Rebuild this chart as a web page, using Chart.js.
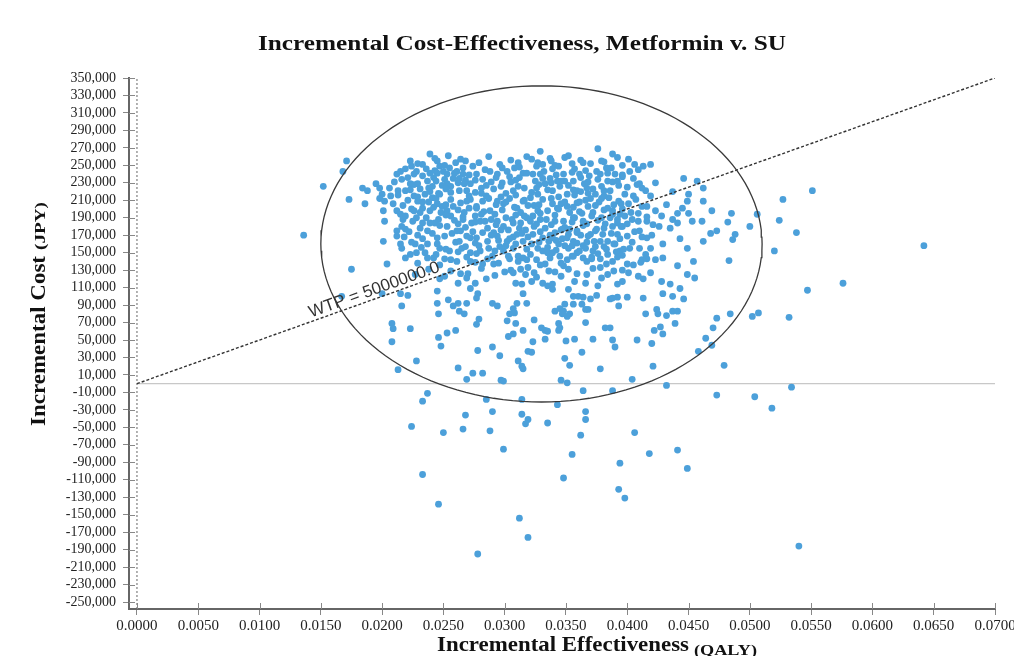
<!DOCTYPE html>
<html>
<head>
<meta charset="utf-8">
<script src="https://cdn.jsdelivr.net/npm/chart.js@4"></script>
<style>
  html, body { margin: 0; padding: 0; background: #fff; }
  canvas { display: block; }
</style>
</head>
<body>
<canvas id="iceChart" width="1014" height="656"></canvas>
<script>
// === Data ===
const chartTitle = 'Incremental Cost-Effectiveness, Metformin v. SU';
const xTickValues = [0, 0.005, 0.01, 0.015, 0.02, 0.025, 0.03, 0.035, 0.04, 0.045, 0.05, 0.055, 0.06, 0.065, 0.07];
const yTickValues = [350000, 330000, 310000, 290000, 270000, 250000, 230000, 210000, 190000, 170000, 150000,
  130000, 110000, 90000, 70000, 50000, 30000, 10000, -10000, -30000, -50000, -70000, -90000, -110000,
  -130000, -150000, -170000, -190000, -210000, -230000, -250000];
const wtpPerQaly = 5000000;
const wtpLabel = 'WTP = 5000000.0';
const ellipseCenter = [0.0330, 160000];
const ellipseRadius = [0.0180, 181000];

// simulated pairs [incremental QALY, incremental cost JPY]
const cloudPoints = [
  [0.0186,206000],[0.0184,224000],[0.0188,221000],[0.0195,229000],[0.0198,224000],[0.0200,217000],[0.0198,212000],
  [0.0202,209000],[0.0206,224000],[0.0213,221000],[0.0209,206000],[0.0212,198000],[0.0201,198000],[0.0215,194000],
  [0.0217,188000],[0.0202,186000],[0.0201,163000],[0.0212,175000],[0.0219,177000],[0.0212,169000],[0.0215,160000],
  [0.0216,155000],[0.0223,148000],[0.0219,144000],[0.0204,137000],[0.0212,240000],[0.0215,243000],[0.0223,255000],
  [0.0224,249000],[0.0228,243000],[0.0233,251000],[0.0239,263000],[0.0239,241000],[0.0245,241000],[0.0245,255000],
  [0.0247,249000],[0.0250,243000],[0.0253,240000],[0.0251,234000],[0.0254,261000],[0.0255,247000],[0.0260,253000],
  [0.0264,257000],[0.0258,235000],[0.0262,230000],[0.0253,229000],[0.0237,232000],[0.0229,229000],[0.0231,223000],
  [0.0223,229000],[0.0229,209000],[0.0235,217000],[0.0241,213000],[0.0233,201000],[0.0239,198000],[0.0245,206000],
  [0.0224,200000],[0.0228,190000],[0.0233,184000],[0.0239,184000],[0.0246,188000],[0.0253,198000],[0.0258,203000],
  [0.0264,207000],[0.0269,221000],[0.0272,229000],[0.0266,240000],[0.0274,249000],[0.0277,240000],[0.0282,234000],
  [0.0288,243000],[0.0294,240000],[0.0298,247000],[0.0302,243000],[0.0308,247000],[0.0311,253000],[0.0315,241000],
  [0.0272,211000],[0.0277,201000],[0.0282,209000],[0.0288,198000],[0.0294,209000],[0.0299,206000],[0.0304,212000],
  [0.0310,201000],[0.0315,209000],[0.0266,188000],[0.0273,184000],[0.0280,186000],[0.0286,178000],[0.0294,186000],
  [0.0299,180000],[0.0306,188000],[0.0313,184000],[0.0318,190000],[0.0253,180000],[0.0257,172000],[0.0264,175000],
  [0.0269,169000],[0.0277,167000],[0.0286,163000],[0.0294,169000],[0.0302,163000],[0.0310,171000],[0.0315,163000],
  [0.0237,175000],[0.0245,167000],[0.0227,160000],[0.0237,160000],[0.0247,155000],[0.0255,152000],[0.0242,144000],
  [0.0251,143000],[0.0265,155000],[0.0272,150000],[0.0280,152000],[0.0290,146000],[0.0299,152000],[0.0307,155000],
  [0.0261,140000],[0.0272,140000],[0.0282,137000],[0.0295,138000],[0.0304,143000],[0.0315,144000],
  [0.0329,266000],[0.0337,258000],[0.0352,261000],[0.0376,269000],[0.0388,263000],[0.0379,255000],[0.0364,253000],
  [0.0344,249000],[0.0401,257000],[0.0413,249000],[0.0419,251000],[0.0326,249000],[0.0331,251000],[0.0323,240000],
  [0.0329,240000],[0.0337,235000],[0.0348,240000],[0.0361,240000],[0.0375,243000],[0.0378,240000],[0.0390,240000],
  [0.0402,243000],[0.0384,232000],[0.0388,231000],[0.0396,237000],[0.0400,225000],[0.0410,229000],[0.0415,221000],
  [0.0419,215000],[0.0405,215000],[0.0446,235000],[0.0457,232000],[0.0462,224000],[0.0450,217000],[0.0449,209000],
  [0.0445,201000],[0.0441,195000],[0.0437,188000],[0.0441,184000],[0.0435,178000],[0.0450,195000],[0.0453,186000],
  [0.0462,209000],[0.0461,186000],[0.0469,198000],[0.0468,172000],[0.0473,175000],[0.0462,163000],[0.0428,192000],
  [0.0423,198000],[0.0416,203000],[0.0409,195000],[0.0416,186000],[0.0410,175000],[0.0416,167000],[0.0410,155000],
  [0.0419,155000],[0.0429,160000],[0.0443,166000],[0.0449,155000],[0.0429,144000],[0.0416,143000],[0.0441,135000],
  [0.0454,140000],[0.0384,201000],[0.0388,198000],[0.0394,194000],[0.0386,190000],[0.0392,188000],[0.0398,192000],
  [0.0379,190000],[0.0382,183000],[0.0388,180000],[0.0396,180000],[0.0400,183000],[0.0375,177000],[0.0367,183000],
  [0.0370,171000],[0.0378,163000],[0.0384,163000],[0.0392,171000],[0.0400,169000],[0.0402,155000],[0.0394,152000],
  [0.0384,148000],[0.0372,152000],[0.0364,158000],[0.0356,163000],[0.0352,171000],[0.0347,177000],[0.0353,177000],
  [0.0359,175000],[0.0341,186000],[0.0348,186000],[0.0356,190000],[0.0363,195000],[0.0368,203000],[0.0359,207000],
  [0.0351,203000],[0.0343,201000],[0.0335,198000],[0.0329,195000],[0.0323,192000],[0.0326,183000],[0.0333,178000],
  [0.0323,171000],[0.0331,167000],[0.0339,167000],[0.0344,160000],[0.0352,155000],[0.0327,155000],[0.0335,150000],
  [0.0345,146000],[0.0356,146000],[0.0364,144000],[0.0378,143000],[0.0388,140000],[0.0400,137000],[0.0333,137000],
  [0.0348,135000],[0.0359,221000],[0.0351,217000],[0.0345,226000],[0.0339,221000],[0.0333,229000],[0.0326,224000],
  [0.0367,224000],[0.0374,217000],[0.0370,212000],[0.0356,232000],[0.0343,232000],
  [0.0236,246000],[0.0242,236000],[0.0249,227000],[0.0256,219000],[0.0261,243000],[0.0268,233000],[0.0271,201000],
  [0.0276,192000],[0.0281,224000],[0.0285,215000],[0.0289,231000],[0.0292,194000],[0.0297,226000],[0.0301,218000],
  [0.0305,231000],[0.0309,193000],[0.0312,236000],[0.0316,224000],[0.0319,204000],[0.0321,213000],[0.0325,232000],
  [0.0328,205000],[0.0332,243000],[0.0334,188000],[0.0338,212000],[0.0341,173000],[0.0346,206000],[0.0349,232000],
  [0.0353,196000],[0.0356,222000],[0.0361,208000],[0.0364,186000],[0.0368,231000],[0.0372,196000],[0.0377,208000],
  [0.0381,221000],[0.0385,213000],[0.0389,205000],[0.0393,227000],[0.0396,200000],[0.0401,206000],[0.0404,188000],
  [0.0226,215000],[0.0231,196000],[0.0238,224000],[0.0244,212000],[0.0249,203000],[0.0256,192000],[0.0262,183000],
  [0.0267,196000],[0.0274,174000],[0.0279,158000],[0.0284,186000],[0.0291,173000],[0.0296,157000],[0.0303,176000],
  [0.0307,168000],[0.0311,146000],[0.0317,176000],[0.0322,160000],[0.0326,142000],[0.0331,152000],[0.0336,163000],
  [0.0342,153000],[0.0347,166000],[0.0351,142000],[0.0355,158000],[0.0359,150000],[0.0362,170000],[0.0367,162000],
  [0.0371,145000],[0.0374,157000],[0.0380,171000],[0.0383,154000],[0.0390,160000],[0.0396,147000],[0.0305,256000],
  [0.0318,260000],[0.0338,255000],[0.0357,246000],[0.0370,252000],[0.0383,247000],[0.0396,250000],[0.0256,226000],
  [0.0246,218000],[0.0233,208000],[0.0221,236000],[0.0219,221000],[0.0210,231000],[0.0207,215000],[0.0229,170000],
  [0.0235,150000],[0.0260,162000],[0.0270,126000],[0.0285,120000],[0.0300,128000],[0.0313,131000],[0.0326,122000],
  [0.0341,128000],[0.0359,126000],[0.0372,132000],[0.0389,129000],[0.0405,136000],[0.0412,142000],[0.0420,170000],
  [0.0426,180000],[0.0432,205000],[0.0437,220000],[0.0423,230000]
];

// the densest part of the cloud, estimated where single dots overlap
const coreFillPoints = [
  [0.0243,258000],[0.0268,255000],[0.0287,260000],[0.0322,257000],[0.0349,259000],[0.0362,256000],[0.0392,259000],
  [0.0229,252000],[0.0251,250000],[0.0279,253000],[0.0296,251000],[0.0327,253000],[0.0341,250000],[0.0355,252000],
  [0.0381,254000],[0.0406,251000],[0.0219,246000],[0.0243,244000],[0.0266,247000],[0.0284,245000],[0.0312,248000],
  [0.0339,246000],[0.0366,244000],[0.0387,247000],[0.0409,245000],[0.0226,240000],[0.0233,238000],[0.0259,241000],
  [0.0271,239000],[0.0304,237000],[0.0318,241000],[0.0342,239000],[0.0355,242000],[0.0369,238000],[0.0384,241000],
  [0.0396,239000],[0.0216,234000],[0.0244,232000],[0.0263,235000],[0.0276,233000],[0.0293,236000],[0.0309,233000],
  [0.0331,235000],[0.0346,232000],[0.0362,236000],[0.0376,234000],[0.0392,232000],[0.0405,235000],[0.0226,228000],
  [0.0241,226000],[0.0267,229000],[0.0285,227000],[0.0298,230000],[0.0311,226000],[0.0328,228000],[0.0338,230000],
  [0.0352,227000],[0.0365,229000],[0.0379,226000],[0.0408,228000],[0.0223,222000],[0.0239,220000],[0.0252,223000],
  [0.0263,221000],[0.0276,219000],[0.0291,223000],[0.0307,221000],[0.0322,219000],[0.0335,222000],[0.0362,220000],
  [0.0372,223000],[0.0386,221000],[0.0412,224000],[0.0213,216000],[0.0229,214000],[0.0247,217000],[0.0271,215000],
  [0.0281,218000],[0.0297,214000],[0.0309,216000],[0.0327,217000],[0.0344,214000],[0.0357,216000],[0.0368,218000],
  [0.0381,215000],[0.0398,217000],[0.0221,210000],[0.0238,208000],[0.0256,211000],[0.0269,209000],[0.0287,212000],
  [0.0301,208000],[0.0316,210000],[0.0331,211000],[0.0349,208000],[0.0366,210000],[0.0379,212000],[0.0393,209000],
  [0.0407,211000],[0.0217,204000],[0.0242,202000],[0.0252,205000],[0.0277,203000],[0.0293,205000],[0.0308,202000],
  [0.0324,204000],[0.0339,206000],[0.0356,202000],[0.0374,204000],[0.0395,206000],[0.0412,203000],[0.0226,198000],
  [0.0248,196000],[0.0262,199000],[0.0283,197000],[0.0298,199000],[0.0313,196000],[0.0327,198000],[0.0344,200000],
  [0.0361,197000],[0.0381,199000],[0.0403,196000],[0.0219,192000],[0.0236,190000],[0.0252,193000],[0.0266,191000],
  [0.0281,194000],[0.0301,190000],[0.0316,192000],[0.0341,193000],[0.0357,190000],[0.0371,192000],[0.0388,194000],
  [0.0416,191000],[0.0225,186000],[0.0243,184000],[0.0259,187000],[0.0276,185000],[0.0289,188000],[0.0307,184000],
  [0.0321,186000],[0.0329,188000],[0.0355,185000],[0.0376,187000],[0.0392,184000],[0.0409,186000],[0.0216,180000],
  [0.0231,178000],[0.0247,181000],[0.0268,179000],[0.0293,182000],[0.0312,178000],[0.0324,180000],[0.0338,182000],
  [0.0349,179000],[0.0364,181000],[0.0381,178000],[0.0395,180000],[0.0421,182000],[0.0222,174000],[0.0241,172000],
  [0.0261,175000],[0.0282,173000],[0.0297,176000],[0.0314,172000],[0.0329,174000],[0.0346,176000],[0.0359,173000],
  [0.0374,175000],[0.0387,172000],[0.0406,174000],[0.0218,168000],[0.0233,166000],[0.0251,169000],[0.0272,167000],
  [0.0289,170000],[0.0304,166000],[0.0319,168000],[0.0337,170000],[0.0351,167000],[0.0368,169000],[0.0394,166000],
  [0.0412,168000],[0.0224,162000],[0.0245,160000],[0.0263,163000],[0.0276,161000],[0.0295,164000],[0.0309,160000],
  [0.0328,162000],[0.0342,164000],[0.0359,161000],[0.0373,163000],[0.0389,160000],[0.0404,162000],[0.0232,156000],
  [0.0252,154000],[0.0268,157000],[0.0287,155000],[0.0301,158000],[0.0318,154000],[0.0335,156000],[0.0349,158000],
  [0.0366,155000],[0.0381,157000],[0.0397,154000],[0.0228,150000],[0.0244,148000],[0.0262,151000],[0.0277,149000],
  [0.0292,152000],[0.0321,148000],[0.0339,150000],[0.0361,152000],[0.0376,149000],[0.0391,151000],[0.0415,148000],
  [0.0237,144000],[0.0256,142000],[0.0269,145000],[0.0286,143000],[0.0303,146000],[0.0318,142000],[0.0337,144000],
  [0.0355,146000],[0.0371,143000],[0.0392,145000],[0.0423,142000],[0.0229,138000],[0.0247,136000],[0.0276,139000],
  [0.0291,137000],[0.0311,140000],[0.0329,136000],[0.0346,138000],[0.0367,140000],[0.0383,137000],[0.0411,139000],
  [0.0238,131000],[0.0256,129000],[0.0281,132000],[0.0305,130000],[0.0319,133000],[0.0336,129000],[0.0352,131000],
  [0.0378,133000],[0.0396,130000],[0.0227,125000],[0.0251,123000],[0.0264,126000],[0.0292,124000],[0.0324,127000],
  [0.0346,123000],[0.0367,125000],[0.0401,127000]
];

const lowerPoints = [
  [0.0215,103000],[0.0221,101000],[0.0200,103000],[0.0216,89000],[0.0208,69000],[0.0209,63000],[0.0223,63000],
  [0.0245,92000],[0.0246,80000],[0.0245,106000],[0.0254,96000],[0.0258,89000],[0.0262,92000],[0.0269,92000],
  [0.0263,83000],[0.0267,80000],[0.0253,58000],[0.0260,61000],[0.0246,53000],[0.0248,43000],[0.0277,68000],
  [0.0279,74000],[0.0278,38000],[0.0290,42000],[0.0296,32000],[0.0262,18000],[0.0274,12000],[0.0269,5000],
  [0.0282,12000],[0.0297,4000],[0.0299,3000],[0.0290,92000],[0.0294,89000],[0.0277,98000],[0.0278,103000],
  [0.0272,109000],[0.0276,115000],[0.0269,121000],[0.0262,115000],[0.0247,120000],[0.0307,86000],[0.0304,80000],
  [0.0308,81000],[0.0302,72000],[0.0309,69000],[0.0307,57000],[0.0303,54000],[0.0315,61000],[0.0318,92000],
  [0.0310,92000],[0.0311,26000],[0.0314,20000],[0.0315,17000],[0.0319,37000],[0.0309,115000],[0.0314,114000],
  [0.0315,103000],[0.0317,125000],[0.0307,127000],
  [0.0322,117000],[0.0331,115000],[0.0335,112000],[0.0339,114000],[0.0339,108000],[0.0352,108000],[0.0357,117000],
  [0.0366,115000],[0.0376,112000],[0.0379,121000],[0.0384,125000],[0.0392,114000],[0.0396,117000],[0.0409,123000],
  [0.0413,120000],[0.0419,127000],[0.0428,117000],[0.0435,114000],[0.0443,109000],[0.0449,125000],[0.0455,121000],
  [0.0356,100000],[0.0360,100000],[0.0364,99000],[0.0375,101000],[0.0370,97000],[0.0386,97000],[0.0388,98000],
  [0.0392,99000],[0.0400,99000],[0.0413,98000],[0.0429,103000],[0.0437,100000],[0.0446,97000],[0.0349,91000],
  [0.0356,91000],[0.0363,91000],[0.0368,85000],[0.0366,85000],[0.0393,89000],[0.0345,86000],[0.0348,83000],
  [0.0347,80000],[0.0351,77000],[0.0341,83000],[0.0353,80000],[0.0415,80000],[0.0424,85000],[0.0425,80000],
  [0.0432,78000],[0.0437,83000],[0.0441,83000],[0.0473,75000],[0.0324,73000],[0.0344,69000],[0.0345,64000],
  [0.0344,61000],[0.0366,70000],[0.0330,64000],[0.0333,61000],[0.0335,60000],[0.0382,64000],[0.0386,64000],
  [0.0427,65000],[0.0422,61000],[0.0429,57000],[0.0439,69000],[0.0470,64000],[0.0323,48000],[0.0333,51000],
  [0.0350,49000],[0.0357,51000],[0.0372,51000],[0.0388,50000],[0.0390,42000],[0.0408,50000],[0.0420,46000],
  [0.0464,52000],[0.0469,44000],[0.0458,37000],[0.0322,36000],[0.0363,36000],[0.0349,29000],[0.0353,21000],
  [0.0378,17000],[0.0421,20000],[0.0479,21000],[0.0346,4000],[0.0351,1000],[0.0404,5000]
];

const outlierPoints = [
  [0.0136,170000],[0.0152,226000],[0.0171,255000],[0.0168,243000],[0.0173,211000],[0.0175,131000],[0.0167,100000],
  [0.0551,221000],[0.0527,211000],[0.0506,194000],[0.0524,187000],[0.0500,180000],[0.0538,173000],[0.0488,171000],
  [0.0520,152000],[0.0642,158000],[0.0576,115000],[0.0547,107000],[0.0502,77000],[0.0507,81000],[0.0532,76000],
  [0.0534,-4000],[0.0504,-15000],[0.0485,195000],[0.0482,185000],[0.0486,165000],[0.0483,141000],[0.0484,80000],
  [0.0364,-8000],[0.0388,-8000],[0.0432,-2000],[0.0473,-13000],[0.0518,-28000],[0.0285,-18000],[0.0314,-18000],
  [0.0343,-24000],[0.0268,-36000],[0.0290,-32000],[0.0314,-35000],[0.0319,-41000],[0.0317,-46000],[0.0335,-45000],
  [0.0366,-32000],[0.0366,-41000],[0.0362,-59000],[0.0250,-56000],[0.0266,-52000],[0.0288,-54000],[0.0299,-75000],
  [0.0355,-81000],[0.0406,-56000],[0.0418,-80000],[0.0441,-76000],[0.0449,-97000],[0.0394,-91000],[0.0348,-108000],
  [0.0393,-121000],[0.0398,-131000],[0.0246,-138000],[0.0312,-154000],[0.0319,-176000],[0.0278,-195000],
  [0.0540,-186000],[0.0208,48000],[0.0228,26000],[0.0213,16000],[0.0237,-11000],[0.0233,-20000],[0.0224,-49000],
  [0.0233,-104000]
];

// === Derived series ===
const toXY = p => ({ x: p[0], y: p[1] });
const allPoints = cloudPoints.concat(coreFillPoints, lowerPoints, outlierPoints).map(toXY);

const xMin = -0.00065, xMax = 0.07, yMin = -258000, yMax = 350000;

const ellipsePts = [];
for (let i = 0; i <= 144; i++) {
  const t = (i / 144) * Math.PI * 2;
  ellipsePts.push({
    x: ellipseCenter[0] + ellipseRadius[0] * Math.cos(t),
    y: ellipseCenter[1] + ellipseRadius[1] * Math.sin(t)
  });
}
const wtpLine = [{ x: 0, y: 0 }, { x: xMax, y: xMax * wtpPerQaly }];
const zeroLine = [{ x: 0, y: 0 }, { x: xMax, y: 0 }];
const originLine = [{ x: 0, y: yMin }, { x: 0, y: yMax }];

// draw text squeezed/stretched to a given width
function fitText(ctx, text, x, y, width) {
  const w = ctx.measureText(text).width;
  ctx.save();
  ctx.translate(x, y);
  ctx.scale(width / w, 1);
  ctx.fillText(text, 0, 0);
  ctx.restore();
}

// === Extra drawing: tick marks inside, titles, WTP label ===
const decorations = {
  id: 'decorations',
  afterDraw(chart) {
    const { ctx, scales: { x, y } } = chart;
    ctx.save();

    ctx.strokeStyle = '#888';
    ctx.lineWidth = 1;
    yTickValues.forEach(v => {
      const py = Math.round(y.getPixelForValue(v)) + 0.5;
      ctx.beginPath(); ctx.moveTo(x.left, py); ctx.lineTo(x.left + 6, py); ctx.stroke();
    });
    xTickValues.forEach(v => {
      const px = Math.round(x.getPixelForValue(v)) + 0.5;
      ctx.beginPath(); ctx.moveTo(px, y.bottom); ctx.lineTo(px, y.bottom - 6); ctx.stroke();
    });

    // chart title
    ctx.fillStyle = '#111';
    ctx.textBaseline = 'alphabetic';
    ctx.textAlign = 'left';
    ctx.font = 'bold 22px "Liberation Serif"';
    fitText(ctx, chartTitle, 258, 50, 528);

    // x axis title
    ctx.font = 'bold 21px "Liberation Serif"';
    fitText(ctx, 'Incremental Effectiveness', 437, 651, 252);
    ctx.font = 'bold 15px "Liberation Serif"';
    fitText(ctx, '(QALY)', 694, 655, 63);

    // y axis title
    ctx.save();
    ctx.translate(45, 426);
    ctx.rotate(-Math.PI / 2);
    ctx.font = 'bold 21px "Liberation Serif"';
    fitText(ctx, 'Incremental Cost', 0, 0, 170);
    ctx.font = 'bold 15px "Liberation Serif"';
    fitText(ctx, '(JPY)', 176, 0, 48);
    ctx.restore();

    // WTP label along the line
    const lx = 0.0196;
    const p0 = { x: x.getPixelForValue(0), y: y.getPixelForValue(0) };
    const p1 = { x: x.getPixelForValue(xMax), y: y.getPixelForValue(xMax * wtpPerQaly) };
    const ang = Math.atan2(p1.y - p0.y, p1.x - p0.x);
    ctx.save();
    ctx.translate(x.getPixelForValue(lx), y.getPixelForValue(lx * wtpPerQaly));
    ctx.rotate(ang);
    ctx.font = '17px "Liberation Sans"';
    ctx.fillStyle = '#333';
    ctx.textAlign = 'center';
    ctx.fillText(wtpLabel, 0, -4);
    ctx.restore();

    ctx.restore();
  }
};

const ctx = document.getElementById('iceChart').getContext('2d');
new Chart(ctx, {
  type: 'scatter',
  data: {
    datasets: [
      {
        label: 'Simulations',
        data: allPoints,
        backgroundColor: 'rgb(76,160,218)',
        borderWidth: 0,
        pointRadius: 3.4,
        order: 3
      },
      {
        label: 'Ellipse',
        data: ellipsePts,
        showLine: true,
        borderColor: '#3a3a3a',
        borderWidth: 1.3,
        pointRadius: 0,
        order: 1
      },
      {
        label: 'WTP',
        data: wtpLine,
        showLine: true,
        borderColor: '#333',
        borderWidth: 1.4,
        borderDash: [3, 2],
        pointRadius: 0,
        order: 1
      },
      {
        label: 'Zero',
        data: zeroLine,
        showLine: true,
        borderColor: '#c8c8c8',
        borderWidth: 1.3,
        pointRadius: 0,
        order: 4
      },
      {
        label: 'Origin',
        data: originLine,
        showLine: true,
        borderColor: '#666',
        borderWidth: 1,
        borderDash: [2, 2],
        pointRadius: 0,
        order: 1
      }
    ]
  },
  options: {
    responsive: false,
    animation: false,
    devicePixelRatio: 1,
    layout: { padding: { top: 78, right: 19, bottom: 0, left: 0 } },
    plugins: {
      legend: { display: false },
      tooltip: { enabled: false },
      title: { display: false }
    },
    scales: {
      x: {
        type: 'linear',
        min: xMin,
        max: xMax,
        afterBuildTicks: s => { s.ticks = xTickValues.map(v => ({ value: v })); },
        afterFit: s => { s.height = 47; s.paddingLeft = 0; s.paddingRight = 0; },
        ticks: {
          autoSkip: false,
          maxRotation: 0,
          padding: 2,
          color: '#222',
          font: { family: 'Liberation Serif', size: 15 },
          callback: v => Number(v).toFixed(4)
        },
        grid: { display: true, drawOnChartArea: false, drawTicks: true, tickLength: 6, color: '#888' },
        border: { display: true, color: '#666', width: 2 }
      },
      y: {
        type: 'linear',
        min: yMin,
        max: yMax,
        afterBuildTicks: s => { s.ticks = yTickValues.map(v => ({ value: v })); },
        afterFit: s => { s.width = 129; s.paddingTop = 0; s.paddingBottom = 0; },
        ticks: {
          autoSkip: false,
          padding: 7,
          color: '#222',
          font: { family: 'Liberation Serif', size: 14 },
          callback: v => Number(v).toLocaleString('en-US')
        },
        grid: { display: true, drawOnChartArea: false, drawTicks: true, tickLength: 6, color: '#888' },
        border: { display: true, color: '#666', width: 2 }
      }
    }
  },
  plugins: [decorations]
});
</script>
</body>
</html>
